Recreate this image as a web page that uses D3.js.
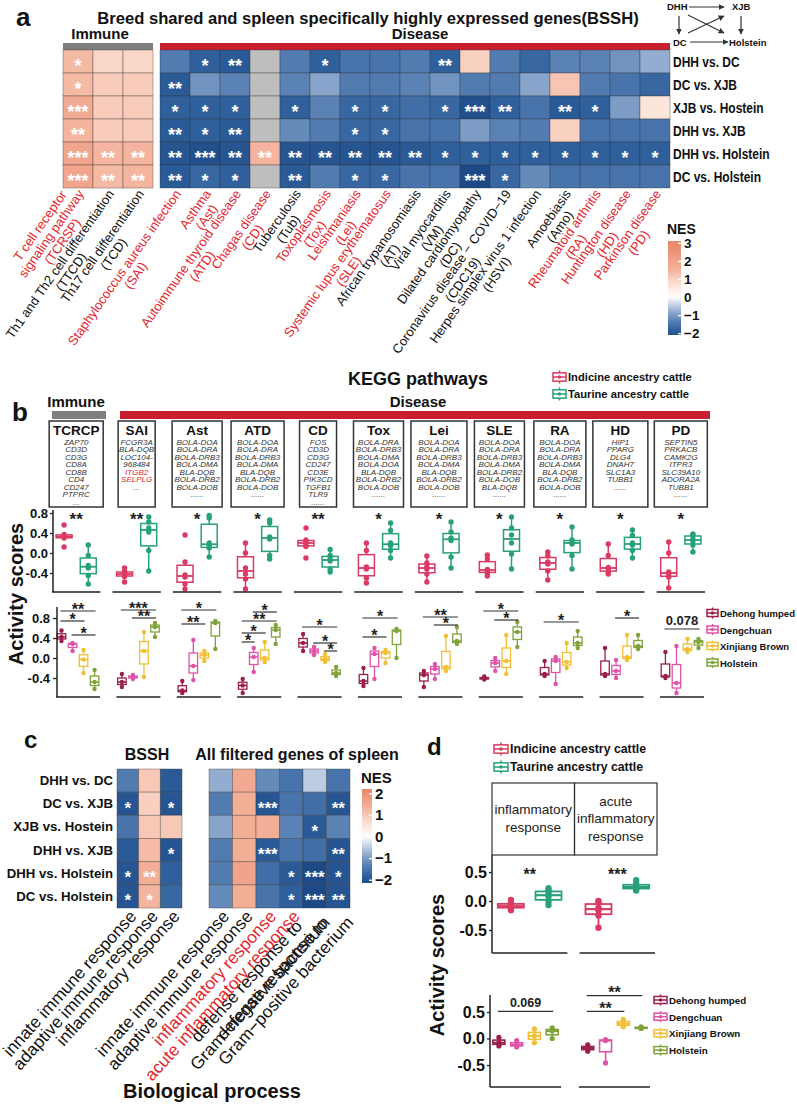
<!DOCTYPE html>
<html>
<head>
<meta charset="utf-8">
<script src="https://cdn.jsdelivr.net/npm/d3@7/dist/d3.min.js"></script>
<style>
  body { margin: 0; background: #fff; }
  svg { font-family: "Liberation Sans", Arial, Helvetica, sans-serif; }
</style>
</head>
<body>
<script>
// ---------- data ----------
var comparisons = ['DHH vs. DC', 'DC vs. XJB', 'XJB vs. Hostein', 'DHH vs. XJB', 'DHH vs. Holstein', 'DC vs. Holstein'];

var aLabels = [
	['T cell receptor', 'signaling pathway', '(TCRSP)'],
	['Th1 and Th2 cell differentiation', '(TTCD)'],
	['Th17 cell differentiation', '(TCD)'],
	['Staphylococcus aureus infection', '(SAI)'],
	['Asthma', '(Ast)'],
	['Autoimmune thyroid disease', '(ATD)'],
	['Chagas disease', '(CD)'],
	['Tuberculosis', '(Tub)'],
	['Toxoplasmosis', '(Tox)'],
	['Leishmaniasis', '(Lei)'],
	['Systemic lupus erythematosus', '(SLE)'],
	['African trypanosomiasis', '(AT)'],
	['Viral myocarditis', '(VM)'],
	['Dilated cardiomyopathy', '(DC)'],
	['Coronavirus disease \u2212 COVID\u221219', '(CDC19)'],
	['Herpes simplex virus 1 infection', '(HSVI)'],
	['Amoebiasis', '(Amo)'],
	['Rheumatoid arthritis', '(RA)'],
	['Huntington disease', '(HD)'],
	['Parkinson disease', '(PD)']
];
var aRed = [1, 0, 0, 1, 1, 1, 1, 0, 1, 1, 1, 0, 0, 0, 0, 0, 0, 1, 1, 1];

var aNES = [
	[1.4, 0.9, 0.9, -1.4, -1.8, -1.9, null, -1.4, -1.8, -1.5, -1.5, -1.4, -1.8, 1.0, -1.4, -1.7, -1.3, -1.3, -1.1, -0.8],
	[1.4, 1.1, 1.1, -1.9, -1.1, -1.3, null, -1.3, -0.9, -1.4, -1.4, -1.3, -1.1, -1.4, -1.4, -0.9, 1.2, -1.4, -1.5, -1.7],
	[1.7, 1.1, 1.1, -1.8, -1.8, -1.8, null, -1.8, -1.3, -1.7, -1.7, -1.6, -1.7, -2.1, -1.8, -1.5, -1.9, -1.8, -1.0, 0.6],
	[1.5, 1.1, 1.1, -1.9, -1.8, -1.9, null, -1.2, -1.4, -1.7, -1.7, -1.5, -1.5, -1.0, -1.3, -1.4, 1.0, -1.5, -1.5, -1.5],
	[1.9, 1.5, 1.5, -2.0, -2.1, -2.0, 1.5, -2.0, -2.0, -2.0, -2.0, -1.9, -1.8, -1.8, -1.8, -1.8, -1.8, -1.8, -1.8, -1.8],
	[1.9, 1.4, 1.5, -1.9, -1.7, -1.8, null, -1.9, -1.4, -1.7, -1.7, -1.5, -1.5, -2.2, -1.7, -1.2, -1.5, -1.5, -1.5, -1.5]
];
var aStars = [
	['*', '', '', '', '*', '**', '', '', '*', '', '', '', '**', '', '', '', '', '', '', ''],
	['*', '', '', '**', '', '', '', '', '', '', '', '', '', '', '', '', '', '', '', ''],
	['***', '', '', '*', '*', '*', '', '*', '', '*', '*', '', '*', '***', '**', '', '**', '*', '', ''],
	['**', '', '', '**', '*', '**', '', '', '', '*', '*', '', '', '', '', '', '', '', '', ''],
	['***', '**', '**', '**', '***', '**', '**', '**', '**', '**', '**', '**', '*', '*', '*', '*', '*', '*', '*', '*'],
	['***', '**', '**', '**', '*', '*', '', '**', '', '*', '*', '', '', '***', '*', '', '', '', '', '']
];

var bPathways = ['TCRCP', 'SAI', 'Ast', 'ATD', 'CD', 'Tox', 'Lei', 'SLE', 'RA', 'HD', 'PD'];
var bGenes = [
	['ZAP70', 'CD3D', 'CD3G', 'CD8A', 'CD8B', 'CD4', 'CD247', 'PTPRC', '...'],
	['FCGR3A', 'BLA-DQB', 'LOC104-', '968484', 'ITGB2', 'SELPLG', '...'],
	['BOLA-DOA', 'BOLA-DRA', 'BOLA-DRB3', 'BOLA-DMA', 'BLA-DQB', 'BOLA-DRB2', 'BOLA-DOB', '......'],
	['BOLA-DOA', 'BOLA-DRA', 'BOLA-DRB3', 'BOLA-DMA', 'BLA-DQB', 'BOLA-DRB2', 'BOLA-DOB', '......'],
	['FOS', 'CD3D', 'CD3G', 'CD247', 'CD3E', 'PIK3CD', 'TGFB1', 'TLR9', '......'],
	['BOLA-DRA', 'BOLA-DRB3', 'BOLA-DMA', 'BOLA-DOA', 'BLA-DQB', 'BOLA-DRB2', 'BOLA-DOB', '......'],
	['BOLA-DOA', 'BOLA-DRA', 'BOLA-DRB3', 'BOLA-DMA', 'BLA-DQB', 'BOLA-DRB2', 'BOLA-DOB', '......'],
	['BOLA-DOA', 'BOLA-DRA', 'BOLA-DRB3', 'BOLA-DMA', 'BOLA-DRB2', 'BOLA-DOB', 'BLA-DQB', '......'],
	['BOLA-DOA', 'BOLA-DRA', 'BOLA-DRB3', 'BOLA-DMA', 'BLA-DQB', 'BOLA-DRB2', 'BOLA-DOB', '......'],
	['HIP1', 'PPARG', 'DLG4', 'DNAH7', 'SLC1A3', 'TUBB1', '......'],
	['SEPTIN5', 'PRKACB', 'CAMK2G', 'ITPR3', 'SLC39A10', 'ADORA2A', 'TUBB1', '......']
];
var bRedGenes = ['ITGB2', 'SELPLG'];

var ancestry = ['Indicine ancestry cattle', 'Taurine ancestry cattle'];
var breeds = ['Dehong humped', 'Dengchuan', 'Xinjiang Brown', 'Holstein'];

var indicineScores = [
	[0.12, 0.30, 0.32, 0.34, 0.37, 0.56],
	[-0.58, -0.47, -0.43, -0.41, -0.37, -0.30],
	[-0.72, -0.62, -0.48, -0.44, -0.18, 0.36],
	[-0.72, -0.52, -0.42, -0.30, 0.0, 0.20],
	[-0.10, 0.13, 0.18, 0.22, 0.26, 0.50],
	[-0.60, -0.50, -0.32, -0.28, 0.05, 0.20],
	[-0.58, -0.42, -0.32, -0.28, -0.20, -0.06],
	[-0.46, -0.40, -0.35, -0.33, -0.12, -0.04],
	[-0.54, -0.36, -0.22, -0.18, -0.06, 0.02],
	[-0.42, -0.38, -0.31, -0.29, -0.05, 0.18],
	[-0.70, -0.48, -0.42, -0.38, 0.0, 0.22]
];
var taurineScores = [
	[-0.62, -0.45, -0.30, -0.25, -0.05, 0.16],
	[-0.36, 0.05, 0.42, 0.50, 0.62, 0.72],
	[-0.08, 0.10, 0.15, 0.20, 0.70, 0.75],
	[-0.12, -0.05, 0.28, 0.32, 0.60, 0.66],
	[-0.38, -0.32, -0.16, -0.12, -0.05, 0.07],
	[-0.10, 0.05, 0.15, 0.20, 0.45, 0.60],
	[-0.30, -0.08, 0.25, 0.30, 0.42, 0.62],
	[-0.32, -0.02, 0.20, 0.36, 0.50, 0.72],
	[-0.32, -0.05, 0.18, 0.22, 0.26, 0.52],
	[-0.10, 0.05, 0.16, 0.20, 0.35, 0.46],
	[0.02, 0.16, 0.24, 0.28, 0.36, 0.38]
];
var ancestrySig = ['**', '**', '*', '*', '**', '*', '*', '*', '*', '*', '*'];

// per pathway: Dehong humped, Dengchuan, Xinjiang Brown, Holstein
var breedScores = [
	[[0.34, 0.42, 0.55], [0.14, 0.28, 0.30], [-0.30, -0.03, 0.16], [-0.62, -0.48, -0.24]],
	[[-0.58, -0.48, -0.32], [-0.42, -0.38, -0.34], [-0.38, 0.14, 0.52], [0.42, 0.62, 0.70]],
	[[-0.70, -0.65, -0.46], [-0.44, -0.16, 0.36], [-0.06, 0.06, 0.14], [0.18, 0.70, 0.74]],
	[[-0.70, -0.55, -0.42], [-0.28, 0.02, 0.20], [-0.08, 0.0, 0.32], [0.28, 0.56, 0.66]],
	[[0.14, 0.30, 0.48], [0.06, 0.14, 0.22], [-0.08, -0.02, 0.08], [-0.36, -0.30, -0.18]],
	[[-0.56, -0.46, -0.20], [-0.42, 0.08, 0.20], [-0.10, 0.10, 0.16], [0.0, 0.54, 0.58]],
	[[-0.58, -0.34, -0.26], [-0.42, -0.22, -0.12], [-0.26, -0.18, 0.44], [0.28, 0.34, 0.62]],
	[[-0.43, -0.41, -0.37], [-0.26, -0.10, 0.0], [-0.32, -0.06, 0.46], [0.22, 0.52, 0.72]],
	[[-0.36, -0.32, -0.06], [-0.52, -0.06, 0.02], [-0.20, -0.08, 0.30], [0.20, 0.30, 0.54]],
	[[-0.36, -0.32, 0.20], [-0.40, -0.26, -0.04], [-0.04, 0.02, 0.46], [0.18, 0.24, 0.46]],
	[[-0.40, -0.36, 0.12], [-0.70, -0.50, 0.24], [0.12, 0.18, 0.38], [0.20, 0.32, 0.38]]
];
// [pathway, breed a, breed b, label, bracket height]
var breedSig = [
	[0, 0, 3, '**', 0.94], [0, 0, 2, '*', 0.74], [0, 1, 3, '*', 0.46],
	[1, 0, 3, '***', 0.96], [1, 1, 3, '**', 0.80],
	[2, 0, 3, '*', 0.96], [2, 0, 2, '**', 0.68],
	[3, 1, 3, '*', 0.92], [3, 0, 3, '**', 0.74], [3, 0, 2, '*', 0.50], [3, 0, 1, '*', 0.32],
	[4, 0, 3, '*', 0.62], [4, 1, 3, '*', 0.30], [4, 2, 3, '*', 0.14],
	[5, 0, 3, '*', 0.80], [5, 0, 2, '*', 0.42],
	[6, 0, 3, '**', 0.82], [6, 1, 3, '*', 0.66],
	[7, 0, 3, '*', 0.94], [7, 1, 3, '*', 0.76],
	[8, 0, 3, '*', 0.72],
	[9, 1, 3, '*', 0.80],
	[10, 0, 3, '0.078', 0.58]
];

var cTermsBSSH = [['innate immune response'], ['adaptive immune response'], ['inflammatory response']];
var cTermsAll = [['innate immune response'], ['adaptive immune response'], ['inflammatory response'],
	['acute inflammatory response'], ['defense response to', 'Gram\u2212negative bacterium'], ['defense response to', 'Gram\u2212positive bacterium']];
var cRedAll = [0, 0, 1, 1, 0, 0];
var cNESBSSH = [[-1.4, 1.0, -1.9], [-2.0, 0.9, -2.0], [-1.5, 1.0, 1.0], [-1.9, 1.2, -2.0], [-2.0, 1.4, -1.8], [-2.0, 1.3, -1.7]];
var cStarsBSSH = [['', '', ''], ['*', '', '*'], ['', '', ''], ['', '', '*'], ['*', '**', ''], ['*', '*', '']];
var cNESAll = [
	[-0.8, 1.5, -1.2, -1.5, -0.5, -1.5],
	[-1.4, 1.4, -2.0, -1.5, -1.6, -2.0],
	[-0.9, 1.4, 1.4, -1.3, -1.9, -1.3],
	[-1.4, 1.4, -1.9, -1.5, -1.6, -2.0],
	[-1.4, 1.6, -1.6, -1.9, -2.2, -2.0],
	[-1.2, 1.4, -1.5, -1.8, -2.2, -2.0]
];
var cStarsAll = [
	['', '', '', '', '', ''], ['', '', '***', '', '', '**'], ['', '', '', '', '*', ''],
	['', '', '***', '', '', '**'], ['', '', '', '*', '***', '*'], ['', '', '', '*', '***', '**']
];

var dTerms = [['inflammatory', 'response'], ['acute', 'inflammatory', 'response']];
var dIndicine = [[-0.16, -0.12, -0.10, -0.08, -0.04, 0.02], [-0.46, -0.25, -0.16, -0.12, -0.03, 0.0]];
var dTaurine = [[-0.07, 0.0, 0.08, 0.12, 0.18, 0.22], [0.18, 0.21, 0.23, 0.25, 0.29, 0.36]];
var dAncestrySig = ['**', '***'];
var dBreedScores = [
	[[-0.14, -0.08, 0.02], [-0.16, -0.12, -0.04], [-0.08, 0.05, 0.18], [0.0, 0.14, 0.20]],
	[[-0.24, -0.18, -0.12], [-0.46, -0.04, -0.02], [0.22, 0.28, 0.36], [0.19, 0.20, 0.22]]
];
var dBreedSig = [[0, 0, 3, '0.069', 0.51], [1, 0, 3, '**', 0.81], [1, 0, 2, '**', 0.51]];

// ---------- colours ----------
var red = '#E3242B', barRed = '#C81F30', barGray = '#7f7f7f';
var ancColors = ['#DA3A63', '#27A07C'];
var breedColors = ['#9A1F4A', '#E052A8', '#F1BF33', '#80A23A'];
var ramp = ['#1d4a86', '#30609c', '#5a82b5', '#93add0', '#ffffff', '#fbdccf', '#f3ae96', '#e8866a'];
var nesColor = d3.scaleLinear().domain([-2.2, -1.8, -1.3, -0.8, 0, 0.8, 1.6, 3]).range(ramp).clamp(true);
var nesColorC = d3.scaleLinear().domain([-2.2, -1.8, -1.3, -0.8, 0, 0.7, 1.4, 2.2]).range(ramp).clamp(true);

var svg = d3.select('body').append('svg').attr('width', 797).attr('height', 1104);
var defs = svg.append('defs');

function label(g, x, y, s, size, weight, anchor, color) {
	return g.append('text')
		.attr('x', x).attr('y', y)
		.attr('font-size', size)
		.attr('font-weight', weight || 'normal')
		.attr('text-anchor', anchor || 'start')
		.attr('fill', color || '#111')
		.text(s);
}

// multi-line rotated label; lines centred in a block whose right edge sits on the anchor.
// lastAtAnchor: the last line sits on the anchor and the others stack up-left of it
function rotLabel(g, lines, x, y, angle, size, color, lastAtAnchor) {
	var t = g.append('g').attr('transform', 'translate(' + x + ',' + y + ') rotate(' + (-angle) + ')');
	var lh = size * 1.05;
	var shift = lastAtAnchor ? lines.length - 1 : (lines.length - 1) / 2;
	var texts = t.selectAll('text').data(lines).enter().append('text')
		.attr('font-size', size).attr('fill', color).attr('text-anchor', 'middle')
		.attr('y', function(d, i) { return (i - shift) * lh; })
		.attr('dy', '0.35em')
		.text(function(d) { return d; });
	var w = d3.max(texts.nodes(), function(n) { return n.getComputedTextLength(); });
	texts.attr('x', -w / 2);
}

function gradient(id, scale, lo, hi) {
	var lg = defs.append('linearGradient').attr('id', id)
		.attr('x1', 0).attr('y1', 1).attr('x2', 0).attr('y2', 0);
	lg.selectAll('stop').data(d3.range(0, 1.0001, 0.05)).enter().append('stop')
		.attr('offset', function(d) { return d; })
		.attr('stop-color', function(d) { return scale(lo + d * (hi - lo)); });
}

function styleAxis(g, size) {
	g.attr('font-family', null).attr('font-size', null);
	g.selectAll('text').attr('font-size', size).attr('font-weight', 'bold').attr('fill', '#111');
	g.selectAll('line').attr('stroke', '#222').attr('stroke-width', 1.3);
}

function boxStats(vals) {
	var v = vals.slice().sort(d3.ascending);
	var q1 = d3.quantile(v, 0.25), med = d3.quantile(v, 0.5), q3 = d3.quantile(v, 0.75), iqr = q3 - q1;
	return {
		v: v, q1: q1, med: med, q3: q3,
		lo: d3.min(v.filter(function(d) { return d >= q1 - 1.5 * iqr; })),
		hi: d3.max(v.filter(function(d) { return d <= q3 + 1.5 * iqr; }))
	};
}

function drawBox(g, vals, cx, w, y, color, r, sw) {
	var s = boxStats(vals);
	g.append('line').attr('x1', cx).attr('x2', cx).attr('y1', y(s.hi)).attr('y2', y(s.q3))
		.attr('stroke', color).attr('stroke-width', sw);
	g.append('line').attr('x1', cx).attr('x2', cx).attr('y1', y(s.q1)).attr('y2', y(s.lo))
		.attr('stroke', color).attr('stroke-width', sw);
	g.append('rect').attr('x', cx - w / 2).attr('y', y(s.q3))
		.attr('width', w).attr('height', Math.max(1, y(s.q1) - y(s.q3)))
		.attr('fill', '#fff').attr('stroke', color).attr('stroke-width', sw);
	g.append('line').attr('x1', cx - w / 2).attr('x2', cx + w / 2).attr('y1', y(s.med)).attr('y2', y(s.med))
		.attr('stroke', color).attr('stroke-width', sw * 1.2);
	g.selectAll(null).data(s.v).enter().append('circle')
		.attr('cx', cx).attr('cy', function(d) { return y(d); })
		.attr('r', r).attr('fill', color);
}

function boxIcon(g, x, yc, w, h, color) {
	g.append('line').attr('x1', x + w / 2).attr('x2', x + w / 2).attr('y1', yc - h / 2).attr('y2', yc + h / 2)
		.attr('stroke', color).attr('stroke-width', 1.5);
	g.append('rect').attr('x', x).attr('y', yc - h * 0.32).attr('width', w).attr('height', h * 0.64)
		.attr('fill', '#fff').attr('stroke', color).attr('stroke-width', 1.5);
	g.append('line').attr('x1', x).attr('x2', x + w).attr('y1', yc).attr('y2', yc)
		.attr('stroke', color).attr('stroke-width', 1.5);
	g.append('circle').attr('cx', x + w / 2).attr('cy', yc).attr('r', 1.8).attr('fill', color);
}

var fmt1 = function(d) { return d3.format('.1f')(d).replace('\u2212', '-'); };

// ================= panel a =================
var pa = svg.append('g');
label(pa, 16, 26, 'a', 26, 'bold');
label(pa, 368, 24, 'Breed shared and spleen specifically highly expressed genes(BSSH)', 16.6, 'bold', 'middle');

var aImm = d3.scaleBand().domain(d3.range(3)).range([63, 153]);
var aDis = d3.scaleBand().domain(d3.range(3, 20)).range([160, 670]);
var aRow = d3.scaleBand().domain(comparisons).range([50, 188]);
var aCw = aImm.bandwidth(), aRh = aRow.bandwidth();
function aCol(j) { return j < 3 ? aImm(j) : aDis(j); }

pa.append('rect').attr('x', 63).attr('y', 43).attr('width', 90).attr('height', 7).attr('fill', barGray);
pa.append('rect').attr('x', 160).attr('y', 43).attr('width', 510).attr('height', 7).attr('fill', barRed);
label(pa, 100, 39, 'Immune', 15, 'bold', 'middle');
label(pa, 420, 39, 'Disease', 15, 'bold', 'middle');

var aCells = [];
aNES.forEach(function(row, i) {
	row.forEach(function(v, j) { aCells.push({ i: i, j: j, v: v, s: aStars[i][j] }); });
});
pa.selectAll('rect.cell').data(aCells).enter().append('rect')
	.attr('x', function(d) { return aCol(d.j); })
	.attr('y', function(d) { return aRow(comparisons[d.i]); })
	.attr('width', aCw).attr('height', aRh)
	.attr('fill', function(d) { return d.v === null ? '#bebebe' : nesColor(d.v); })
	.attr('stroke', '#333').attr('stroke-opacity', 0.45).attr('stroke-width', 0.8);
pa.selectAll('text.star').data(aCells.filter(function(d) { return d.s; })).enter().append('text')
	.attr('x', function(d) { return aCol(d.j) + aCw / 2; })
	.attr('y', function(d) { return aRow(comparisons[d.i]) + aRh / 2 + 10; })
	.attr('text-anchor', 'middle').attr('font-size', 18).attr('font-weight', 'bold').attr('fill', '#fff')
	.text(function(d) { return d.s; });

comparisons.forEach(function(c) {
	label(pa, 0, 0, c, 15, 'bold')
		.attr('transform', 'translate(673,' + (aRow(c) + aRh / 2 + 5.5) + ') scale(0.8,1)');
});
aLabels.forEach(function(lines, j) {
	rotLabel(pa, lines, aCol(j) + aCw / 2 + 14, 199, 55, 13, aRed[j] ? red : '#111', true);
});

// NES legend a
gradient('gA', nesColor, -2.1, 3.1);
var aLeg = d3.scaleLinear().domain([-2.1, 3.1]).range([335, 241]);
label(pa, 667, 234, 'NES', 14, 'bold');
pa.append('rect').attr('x', 668).attr('y', 241).attr('width', 13).attr('height', 94).attr('fill', 'url(#gA)');
pa.append('g').attr('transform', 'translate(681,0)')
	.call(d3.axisRight(aLeg).tickValues([-2, -1, 0, 1, 2, 3]).tickFormat(d3.format('d')).tickSize(-3).tickPadding(3))
	.call(function(g) { g.select('.domain').remove(); styleAxis(g, 13.5); g.selectAll('line').attr('stroke', '#fff'); });

// comparison diagram
defs.append('marker').attr('id', 'arr').attr('viewBox', '0 0 10 10').attr('refX', 9).attr('refY', 5)
	.attr('markerWidth', 5).attr('markerHeight', 5).attr('orient', 'auto')
	.append('path').attr('d', 'M0,0L10,5L0,10z').attr('fill', '#333');
[[689, 7, 724, 7], [679, 16, 679, 34], [741, 16, 741, 34], [690, 42, 728, 42], [688, 15, 724, 33], [688, 33, 724, 16]]
	.forEach(function(l) {
		pa.append('line').attr('x1', l[0]).attr('y1', l[1]).attr('x2', l[2]).attr('y2', l[3])
			.attr('stroke', '#333').attr('stroke-width', 1.2).attr('marker-end', 'url(#arr)');
	});
label(pa, 667, 10, 'DHH', 9.5, 'bold');
label(pa, 732, 10, 'XJB', 9.5, 'bold');
label(pa, 673, 46, 'DC', 9.5, 'bold');
label(pa, 729, 46, 'Holstein', 9.5, 'bold');

// ================= panel b =================
var pb = svg.append('g');
label(pb, 12, 421, 'b', 26, 'bold');
label(pb, 418, 385, 'KEGG pathways', 18, 'bold', 'middle');
boxIcon(pb, 553, 377, 13, 13, ancColors[0]);
boxIcon(pb, 553, 394, 13, 13, ancColors[1]);
label(pb, 568, 381, ancestry[0], 11.2, 'bold');
label(pb, 568, 398, ancestry[1], 11.2, 'bold');

pb.append('rect').attr('x', 52).attr('y', 411).attr('width', 54).attr('height', 8).attr('fill', barGray);
pb.append('rect').attr('x', 120).attr('y', 411).attr('width', 590).attr('height', 8).attr('fill', barRed);
label(pb, 76, 407, 'Immune', 15, 'bold', 'middle');
label(pb, 418, 407, 'Disease', 15, 'bold', 'middle');

var xUp = d3.scaleBand().domain(bPathways).range([52, 705]).paddingInner(0.2);
var xLow = d3.scaleBand().domain(bPathways).range([56, 704]).paddingInner(0.27);
var yUp = d3.scaleLinear().domain([-0.4, 0.8]).range([573, 513]);
var yLow = d3.scaleLinear().domain([-0.4, 0.8]).range([678, 618]);
var geneBoxW = [54, 37, 50, 53, 37, 50, 56, 50, 52, 55, 53];

bPathways.forEach(function(p, i) {
	var cx = xUp(p) + xUp.bandwidth() / 2;
	pb.append('rect').attr('x', cx - geneBoxW[i] / 2).attr('y', 421).attr('width', geneBoxW[i]).attr('height', 86)
		.attr('fill', 'none').attr('stroke', '#333').attr('stroke-width', 1.5);
	label(pb, cx, 435, p, 13.5, 'bold', 'middle');
	bGenes[i].forEach(function(gname, k) {
		label(pb, cx, 444.5 + k * 7.5, gname, 8, 'normal', 'middle', bRedGenes.indexOf(gname) >= 0 ? red : '#333')
			.attr('font-style', 'italic');
	});
});

// upper row: ancestry
var subUp = d3.scaleBand().domain([0, 1]).range([0, xUp.bandwidth()]);
bPathways.forEach(function(p, i) {
	var g = pb.append('g');
	drawBox(g, indicineScores[i], xUp(p) + subUp(0) + subUp.bandwidth() / 2, 16, yUp, ancColors[0], 2.7, 1.5);
	drawBox(g, taurineScores[i], xUp(p) + subUp(1) + subUp.bandwidth() / 2, 16, yUp, ancColors[1], 2.7, 1.5);
	label(pb, xUp(p) + xUp.bandwidth() / 2, 525, ancestrySig[i], 17, 'bold', 'middle', '#222');
	pb.append('line').attr('x1', xUp(p)).attr('x2', xUp(p) + xUp.bandwidth()).attr('y1', 592).attr('y2', 592)
		.attr('stroke', '#222').attr('stroke-width', 1.5);
});
pb.append('g').attr('transform', 'translate(53,0)')
	.call(d3.axisLeft(yUp).tickValues([-0.4, 0, 0.4, 0.8]).tickFormat(fmt1).tickSize(3).tickPadding(2))
	.call(function(g) { g.select('.domain').remove(); styleAxis(g, 13); });
pb.append('line').attr('x1', 53).attr('x2', 53).attr('y1', 510).attr('y2', 592).attr('stroke', '#222').attr('stroke-width', 1.5);

// lower row: breeds
var subLow = d3.scaleBand().domain(d3.range(4)).range([0, xLow.bandwidth()]);
bPathways.forEach(function(p, i) {
	var g = pb.append('g');
	breedScores[i].forEach(function(vals, k) {
		drawBox(g, vals, xLow(p) + subLow(k) + subLow.bandwidth() / 2, 8.5, yLow, breedColors[k], 2.2, 1.3);
	});
	pb.append('line').attr('x1', xLow(p)).attr('x2', xLow(p) + xLow.bandwidth()).attr('y1', 697).attr('y2', 697)
		.attr('stroke', '#222').attr('stroke-width', 1.5);
});
breedSig.forEach(function(s) {
	var p = bPathways[s[0]];
	var x1 = xLow(p) + subLow(s[1]) + subLow.bandwidth() / 2;
	var x2 = xLow(p) + subLow(s[2]) + subLow.bandwidth() / 2;
	var yy = yLow(s[4]);
	pb.append('line').attr('x1', x1 - 1).attr('x2', x2 + 1).attr('y1', yy).attr('y2', yy)
		.attr('stroke', '#333').attr('stroke-width', 1.2);
	if (s[3].indexOf('*') >= 0) label(pb, (x1 + x2) / 2, yy + 3.5, s[3], 16, 'bold', 'middle', '#222');
	else label(pb, (x1 + x2) / 2, yy - 4, s[3], 13, 'bold', 'middle', '#222');
});
pb.append('g').attr('transform', 'translate(57,0)')
	.call(d3.axisLeft(yLow).tickValues([-0.4, 0, 0.4, 0.8]).tickFormat(fmt1).tickSize(4).tickPadding(3))
	.call(function(g) { g.select('.domain').remove(); styleAxis(g, 13); });
pb.append('line').attr('x1', 57).attr('x2', 57).attr('y1', 607).attr('y2', 697).attr('stroke', '#222').attr('stroke-width', 1.5);

breeds.forEach(function(b, k) {
	boxIcon(pb, 707, 613 + k * 16.5, 11, 11, breedColors[k]);
	label(pb, 720, 617 + k * 16.5, b, 9.5, 'bold');
});
label(pb, 0, 0, 'Activity scores', 20, 'bold', 'middle').attr('transform', 'translate(23,594) rotate(-90)');

// ================= panel c =================
var pc = svg.append('g');
label(pc, 24, 748, 'c', 24, 'bold');
label(pc, 147, 760, 'BSSH', 16, 'bold', 'middle');
label(pc, 297, 760, 'All filtered genes of spleen', 16, 'bold', 'middle');

var cRow = d3.scaleBand().domain(comparisons).range([769, 908]);
var cxB = d3.scaleBand().domain(d3.range(3)).range([117, 182]);
var cxA = d3.scaleBand().domain(d3.range(6)).range([209, 350]);

function cHeat(mat, stars, xs) {
	mat.forEach(function(row, i) {
		row.forEach(function(v, j) {
			pc.append('rect').attr('x', xs(j)).attr('y', cRow(comparisons[i]))
				.attr('width', xs.bandwidth()).attr('height', cRow.bandwidth())
				.attr('fill', nesColorC(v)).attr('stroke', '#333').attr('stroke-opacity', 0.45).attr('stroke-width', 0.8);
			if (stars[i][j]) {
				label(pc, xs(j) + xs.bandwidth() / 2, cRow(comparisons[i]) + cRow.bandwidth() / 2 + 10,
					stars[i][j], 17, 'bold', 'middle', '#fff');
			}
		});
	});
}
cHeat(cNESBSSH, cStarsBSSH, cxB);
cHeat(cNESAll, cStarsAll, cxA);
comparisons.forEach(function(c) {
	label(pc, 113, cRow(c) + cRow.bandwidth() / 2 + 4.5, c, 13.2, 'bold', 'end');
});
cTermsBSSH.forEach(function(lines, j) {
	rotLabel(pc, lines, cxB(j) + cxB.bandwidth() / 2 + 5, 913, 48, 17.3, '#111', false);
});
cTermsAll.forEach(function(lines, j) {
	rotLabel(pc, lines, cxA(j) + cxA.bandwidth() / 2 + 5, 913, 48, 17.3, cRedAll[j] ? red : '#111', false);
});
label(pc, 212, 1098, 'Biological process', 20, 'bold', 'middle');

gradient('gC', nesColorC, -2.15, 2.2);
var cLeg = d3.scaleLinear().domain([-2.15, 2.2]).range([883, 789]);
label(pc, 361, 783, 'NES', 15, 'bold');
pc.append('rect').attr('x', 362).attr('y', 789).attr('width', 10).attr('height', 94).attr('fill', 'url(#gC)');
pc.append('g').attr('transform', 'translate(372,0)')
	.call(d3.axisRight(cLeg).tickValues([-2, -1, 0, 1, 2]).tickFormat(d3.format('d')).tickSize(-3).tickPadding(3))
	.call(function(g) { g.select('.domain').remove(); styleAxis(g, 15); g.selectAll('line').attr('stroke', '#fff'); });

// ================= panel d =================
var pd = svg.append('g');
label(pd, 427, 755, 'd', 24, 'bold');
boxIcon(pd, 494, 749, 14, 13, ancColors[0]);
boxIcon(pd, 494, 767, 14, 13, ancColors[1]);
label(pd, 510, 753, ancestry[0], 12.3, 'bold');
label(pd, 510, 771, ancestry[1], 12.3, 'bold');

var dStrip = d3.scaleBand().domain([0, 1]).range([492, 657]);
dTerms.forEach(function(lines, i) {
	pd.append('rect').attr('x', dStrip(i)).attr('y', 783).attr('width', dStrip.bandwidth()).attr('height', 72)
		.attr('fill', 'none').attr('stroke', '#333').attr('stroke-width', 1.2);
	lines.forEach(function(t, k) {
		label(pd, dStrip(i) + dStrip.bandwidth() / 2, 819 + (k - (lines.length - 1) / 2) * 17.5 + 4, t, 13.5, 'normal', 'middle', '#222');
	});
});

var dxUp = d3.scaleBand().domain([0, 1]).range([492, 655]).paddingInner(0.14);
var dxLow = d3.scaleBand().domain([0, 1]).range([490, 650]).paddingInner(0.2);
var dyUp = d3.scaleLinear().domain([-0.5, 0.5]).range([930, 872]);
var dyLow = d3.scaleLinear().domain([-0.5, 0.5]).range([1065, 1012]);
var dSubUp = d3.scaleBand().domain([0, 1]).range([0, dxUp.bandwidth()]);
var dSubLow = d3.scaleBand().domain(d3.range(4)).range([0, dxLow.bandwidth()]);

dTerms.forEach(function(t, i) {
	var g = pd.append('g');
	drawBox(g, dIndicine[i], dxUp(i) + dSubUp(0) + dSubUp.bandwidth() / 2, 26, dyUp, ancColors[0], 3.2, 1.8);
	drawBox(g, dTaurine[i], dxUp(i) + dSubUp(1) + dSubUp.bandwidth() / 2, 26, dyUp, ancColors[1], 3.2, 1.8);
	label(pd, dxUp(i) + dxUp.bandwidth() / 2, 880, dAncestrySig[i], 16, 'bold', 'middle', '#222');
	pd.append('line').attr('x1', dxUp(i)).attr('x2', dxUp(i) + dxUp.bandwidth()).attr('y1', 953).attr('y2', 953)
		.attr('stroke', '#222').attr('stroke-width', 1.5);

	var g2 = pd.append('g');
	dBreedScores[i].forEach(function(vals, k) {
		drawBox(g2, vals, dxLow(i) + dSubLow(k) + dSubLow.bandwidth() / 2, 12, dyLow, breedColors[k], 2.6, 1.6);
	});
	pd.append('line').attr('x1', dxLow(i)).attr('x2', dxLow(i) + dxLow.bandwidth()).attr('y1', 1087).attr('y2', 1087)
		.attr('stroke', '#222').attr('stroke-width', 1.5);
});
dBreedSig.forEach(function(s) {
	var x1 = dxLow(s[0]) + dSubLow(s[1]) + dSubLow.bandwidth() / 2;
	var x2 = dxLow(s[0]) + dSubLow(s[2]) + dSubLow.bandwidth() / 2;
	var yy = dyLow(s[4]);
	pd.append('line').attr('x1', x1 - 1).attr('x2', x2 + 1).attr('y1', yy).attr('y2', yy)
		.attr('stroke', '#333').attr('stroke-width', 1.2);
	if (s[3].indexOf('*') >= 0) label(pd, (x1 + x2) / 2, yy + 2.5, s[3], 16, 'bold', 'middle', '#222');
	else label(pd, (x1 + x2) / 2, yy - 4, s[3], 12.5, 'bold', 'middle', '#222');
});

pd.append('g').attr('transform', 'translate(492,0)')
	.call(d3.axisLeft(dyUp).tickValues([-0.5, 0, 0.5]).tickFormat(fmt1).tickSize(3).tickPadding(2))
	.call(function(g) { g.select('.domain').remove(); styleAxis(g, 16); });
pd.append('line').attr('x1', 492).attr('x2', 492).attr('y1', 855).attr('y2', 953).attr('stroke', '#222').attr('stroke-width', 1.5);
pd.append('g').attr('transform', 'translate(490,0)')
	.call(d3.axisLeft(dyLow).tickValues([-0.5, 0, 0.5]).tickFormat(fmt1).tickSize(3).tickPadding(2))
	.call(function(g) { g.select('.domain').remove(); styleAxis(g, 16); });
pd.append('line').attr('x1', 490).attr('x2', 490).attr('y1', 995).attr('y2', 1087).attr('stroke', '#222').attr('stroke-width', 1.5);

breeds.forEach(function(b, k) {
	boxIcon(pd, 654, 1000 + k * 16.7, 13, 11, breedColors[k]);
	label(pd, 669, 1004 + k * 16.7, b, 9.8, 'bold');
});
label(pd, 0, 0, 'Activity scores', 20, 'bold', 'middle').attr('transform', 'translate(444,965) rotate(-90)');
</script>
</body>
</html>
